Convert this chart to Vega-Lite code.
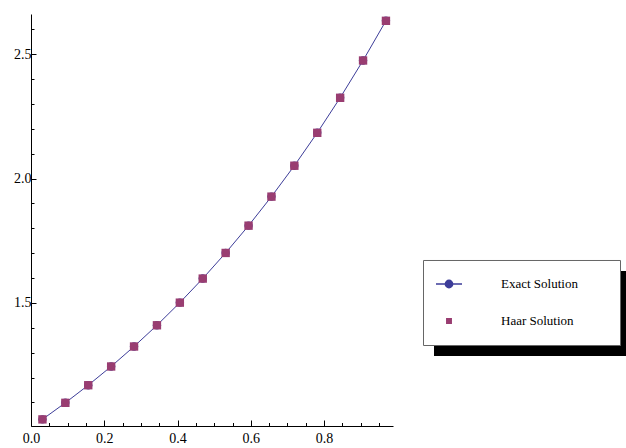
{
  "$schema": "https://vega.github.io/schema/vega-lite/v6.json",
  "width": 362,
  "height": 412,
  "autosize": {"type": "none"},
  "padding": {"left": 31, "top": 14, "right": 233, "bottom": 22},
  "background": "white",
  "config": {
    "view": {"stroke": null},
    "axis": {
      "labelFont": "Liberation Serif, Times New Roman, serif",
      "labelFontSize": 14,
      "labelColor": "black",
      "domainColor": "black",
      "domainWidth": 1,
      "tickColor": "black",
      "tickWidth": 1,
      "grid": false,
      "title": null,
      "labelFlush": false,
      "labelOverlap": false
    },
    "legend": {
      "labelFont": "Liberation Serif, Times New Roman, serif",
      "labelFontSize": 13,
      "labelColor": "black",
      "labelLimit": 0,
      "title": null,
      "orient": "none",
      "direction": "vertical"
    }
  },
  "data": {
    "values": [
      {"x": 0.03125, "y": 1.0317, "series": "Exact Solution"},
      {"x": 0.09375, "y": 1.0983, "series": "Exact Solution"},
      {"x": 0.15625, "y": 1.1691, "series": "Exact Solution"},
      {"x": 0.21875, "y": 1.2445, "series": "Exact Solution"},
      {"x": 0.28125, "y": 1.3248, "series": "Exact Solution"},
      {"x": 0.34375, "y": 1.4102, "series": "Exact Solution"},
      {"x": 0.40625, "y": 1.5012, "series": "Exact Solution"},
      {"x": 0.46875, "y": 1.598, "series": "Exact Solution"},
      {"x": 0.53125, "y": 1.7011, "series": "Exact Solution"},
      {"x": 0.59375, "y": 1.8108, "series": "Exact Solution"},
      {"x": 0.65625, "y": 1.9276, "series": "Exact Solution"},
      {"x": 0.71875, "y": 2.0519, "series": "Exact Solution"},
      {"x": 0.78125, "y": 2.1842, "series": "Exact Solution"},
      {"x": 0.84375, "y": 2.3251, "series": "Exact Solution"},
      {"x": 0.90625, "y": 2.4751, "series": "Exact Solution"},
      {"x": 0.96875, "y": 2.6347, "series": "Exact Solution"},
      {"x": 0.03125, "y": 1.0316, "series": "Haar Solution"},
      {"x": 0.09375, "y": 1.0982, "series": "Haar Solution"},
      {"x": 0.15625, "y": 1.169, "series": "Haar Solution"},
      {"x": 0.21875, "y": 1.2444, "series": "Haar Solution"},
      {"x": 0.28125, "y": 1.3247, "series": "Haar Solution"},
      {"x": 0.34375, "y": 1.4101, "series": "Haar Solution"},
      {"x": 0.40625, "y": 1.5011, "series": "Haar Solution"},
      {"x": 0.46875, "y": 1.5979, "series": "Haar Solution"},
      {"x": 0.53125, "y": 1.701, "series": "Haar Solution"},
      {"x": 0.59375, "y": 1.8107, "series": "Haar Solution"},
      {"x": 0.65625, "y": 1.9275, "series": "Haar Solution"},
      {"x": 0.71875, "y": 2.0518, "series": "Haar Solution"},
      {"x": 0.78125, "y": 2.1841, "series": "Haar Solution"},
      {"x": 0.84375, "y": 2.325, "series": "Haar Solution"},
      {"x": 0.90625, "y": 2.475, "series": "Haar Solution"},
      {"x": 0.96875, "y": 2.6346, "series": "Haar Solution"}
    ]
  },
  "resolve": {"axis": {"x": "independent", "y": "independent"}},
  "layer": [
    {
      "transform": [{"filter": "datum.series == 'Exact Solution'"}],
      "mark": {"type": "line", "color": "#3d3d99", "strokeWidth": 1},
      "encoding": {
        "x": {"field": "x", "type": "quantitative", "scale": {"domain": [0, 0.988], "nice": false, "zero": false},
          "axis": {"orient": "bottom", "values": [0, 0.2, 0.4, 0.6, 0.8], "format": ".1f", "tickSize": -6, "labelPadding": 11}},
        "y": {"field": "y", "type": "quantitative", "scale": {"domain": [1.005, 2.662], "nice": false, "zero": false},
          "axis": {"orient": "left", "values": [1.5, 2.0, 2.5], "format": ".1f", "tickSize": -5, "labelPadding": 5}}
      }
    },
    {
      "transform": [{"filter": "datum.series == 'Exact Solution'"}],
      "mark": {"type": "point", "shape": "circle", "filled": true, "color": "#3d3d99", "size": 70, "opacity": 1},
      "encoding": {
        "x": {"field": "x", "type": "quantitative", "scale": {"domain": [0, 0.988], "nice": false, "zero": false},
          "axis": {"orient": "bottom", "values": [0.05, 0.1, 0.15, 0.25, 0.3, 0.35, 0.45, 0.5, 0.55, 0.65, 0.7, 0.75, 0.85, 0.9, 0.95], "tickSize": -3.5, "labels": false, "domain": false}},
        "y": {"field": "y", "type": "quantitative", "scale": {"domain": [1.005, 2.662], "nice": false, "zero": false},
          "axis": {"orient": "left", "values": [1.1, 1.2, 1.3, 1.4, 1.6, 1.7, 1.8, 1.9, 2.1, 2.2, 2.3, 2.4, 2.6], "tickSize": -3, "labels": false, "domain": false}}
      }
    },
    {
      "transform": [{"filter": "datum.series == 'Haar Solution'"}],
      "mark": {"type": "point", "shape": "square", "filled": true, "color": "#993d71", "size": 70, "opacity": 1},
      "encoding": {
        "x": {"field": "x", "type": "quantitative", "scale": {"domain": [0, 0.988], "nice": false, "zero": false}, "axis": null},
        "y": {"field": "y", "type": "quantitative", "scale": {"domain": [1.005, 2.662], "nice": false, "zero": false}, "axis": null}
      }
    },
    {
      "transform": [{"filter": "datum.series == 'none'"}],
      "mark": {"type": "point", "filled": true, "strokeWidth": 1.2, "opacity": 1},
      "encoding": {
        "x": {"field": "x", "type": "quantitative", "scale": {"domain": [0, 0.988], "nice": false, "zero": false}, "axis": null},
        "y": {"field": "y", "type": "quantitative", "scale": {"domain": [1.005, 2.662], "nice": false, "zero": false}, "axis": null},
        "shape": {"field": "series", "type": "nominal",
          "scale": {"domain": ["Exact Solution", "Haar Solution"], "range": ["M-1,0H1M-0.28,0A0.28,0.28,0,1,1,0.28,0A0.28,0.28,0,1,1,-0.28,0Z", "M-0.17,-0.17H0.17V0.17H-0.17Z"]},
          "legend": {"legendX": 392, "legendY": 244, "zindex": 3, "padding": 12, "labelOffset": 38, "rowPadding": 16, "symbolSize": 676, "symbolOpacity": 1}},
        "fill": {"field": "series", "type": "nominal",
          "scale": {"domain": ["Exact Solution", "Haar Solution"], "range": ["#3d3d99", "#993d71"]},
          "legend": {"legendX": 392, "legendY": 244, "zindex": 3, "padding": 12, "labelOffset": 38, "rowPadding": 16, "symbolSize": 676, "symbolOpacity": 1}},
        "stroke": {"field": "series", "type": "nominal",
          "scale": {"domain": ["Exact Solution", "Haar Solution"], "range": ["#3d3d99", "#993d71"]},
          "legend": {"legendX": 392, "legendY": 244, "zindex": 3, "padding": 12, "labelOffset": 38, "rowPadding": 16, "symbolSize": 676, "symbolOpacity": 1}},
        "size": {"field": "s2", "type": "ordinal",
          "scale": {"domain": ["A"], "range": [38809, 38809]},
          "legend": {"legendX": 403, "legendY": 201, "zindex": 1, "padding": 0, "labelOffset": 0, "rowPadding": 0,
            "labelExpr": "''", "symbolType": "M-1,-0.4315H1V0.4315H-1Z", "symbolOpacity": 1,
            "symbolFillColor": "black", "symbolStrokeColor": "black", "symbolStrokeWidth": 0}},
        "opacity": {"field": "s3", "type": "nominal",
          "scale": {"domain": ["B"], "range": [1]},
          "legend": {"legendX": 392, "legendY": 190, "zindex": 2, "padding": 0, "labelOffset": 0, "rowPadding": 0, "symbolSize": 38809,
            "labelExpr": "''", "symbolType": "M-1,-0.4315H1V0.4315H-1Z",
            "symbolFillColor": "white", "symbolStrokeColor": "#666666", "symbolStrokeWidth": 1}}
      }
    }
  ]
}
